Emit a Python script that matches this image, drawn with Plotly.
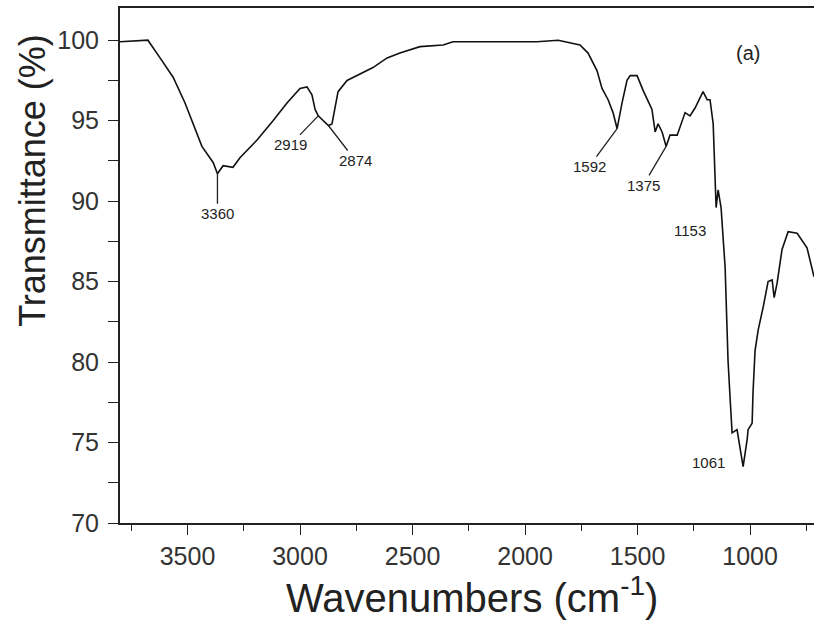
import plotly.graph_objects as go

# ---- data ----
wavenumber = [3800, 3676, 3622, 3564, 3511, 3475, 3436, 3386, 3367, 3342, 3298, 3267,
              3191, 3120, 3058, 3000, 2969, 2947, 2933, 2919, 2874, 2858, 2844, 2831,
              2791, 2733, 2676, 2613, 2556, 2467, 2364, 2320, 2213, 1947, 1853, 1756,
              1720, 1680, 1658, 1631, 1609, 1591, 1569, 1547, 1533, 1502, 1476, 1436,
              1422, 1409, 1391, 1373, 1356, 1324, 1289, 1267, 1244, 1209, 1191, 1178,
              1164, 1151, 1142, 1129, 1111, 1098, 1089, 1080, 1058, 1044, 1031, 1013,
              1009, 991, 987, 978, 964, 942, 920, 902, 893, 880, 867, 858, 831, 791,
              747, 716]
transmittance = [99.9, 100.0, 98.9, 97.7, 96.1, 94.8, 93.4, 92.4, 91.7, 92.2, 92.1, 92.7,
                 93.8, 95.0, 96.1, 97.0, 97.1, 96.6, 95.7, 95.3, 94.7, 94.8, 95.8, 96.8,
                 97.5, 97.9, 98.3, 98.9, 99.2, 99.6, 99.7, 99.9, 99.9, 99.9, 100.0, 99.7,
                 99.2, 98.1, 97.0, 96.3, 95.5, 94.5, 96.1, 97.5, 97.8, 97.8, 96.9, 95.7,
                 94.3, 94.8, 94.3, 93.4, 94.1, 94.1, 95.5, 95.3, 95.8, 96.8, 96.3, 96.3,
                 94.8, 89.6, 90.7, 89.6, 85.9, 80.1, 77.8, 75.6, 75.8, 74.7, 73.5, 75.2,
                 75.8, 76.2, 78.1, 80.7, 82.0, 83.4, 85.0, 85.1, 84.0, 84.9, 86.1, 87.0,
                 88.1, 88.0, 87.1, 85.3]

peak_labels = ["3360", "2919", "2874", "1592", "1375", "1153", "1061"]
peak_x = [3367, 2919, 2874, 1591, 1373, 1151, 1031]
peak_y = [91.7, 95.3, 94.7, 94.5, 93.4, 89.6, 73.5]

x_ticks = [3500, 3000, 2500, 2000, 1500, 1000]
y_ticks = [70, 75, 80, 85, 90, 95, 100]

# ---- label placement (pixel offsets, styling only) ----
label_style = {
    "3360": dict(showarrow=True, ax=0, ay=40),
    "2919": dict(showarrow=True, ax=-28, ay=29),
    "2874": dict(showarrow=True, ax=27, ay=35),
    "1592": dict(showarrow=True, ax=-28, ay=38),
    "1375": dict(showarrow=True, ax=-23, ay=39),
    "1153": dict(showarrow=False, xshift=-26, yshift=-23),
    "1061": dict(showarrow=False, xshift=-35, yshift=4),
}

font_family = "Liberation Sans, Arial, sans-serif"

fig = go.Figure()
fig.add_trace(go.Scatter(x=wavenumber, y=transmittance, mode="lines",
                         line=dict(color="#111111", width=1.6), showlegend=False))

annotations = []
for lab, px, py in zip(peak_labels, peak_x, peak_y):
    st = label_style[lab]
    a = dict(x=px, y=py, xref="x", yref="y", text=lab,
             font=dict(family=font_family, size=15, color="#222222"))
    if st["showarrow"]:
        a.update(showarrow=True, arrowhead=0, arrowwidth=1.3, arrowcolor="#222222",
                 ax=st["ax"], ay=st["ay"], standoff=0)
    else:
        a.update(showarrow=False, xshift=st["xshift"], yshift=st["yshift"],
                 xanchor="center", yanchor="middle")
    annotations.append(a)

annotations.append(dict(x=0.905, y=0.913, xref="paper", yref="paper", text="(a)",
                        xanchor="center", yanchor="middle", showarrow=False,
                        font=dict(family=font_family, size=20, color="#222222")))
annotations.append(dict(x=-0.127, y=0.666, xref="paper", yref="paper",
                        text="Transmittance (%)", textangle=-90, showarrow=False,
                        xanchor="center", yanchor="middle",
                        font=dict(family=font_family, size=36, color="#222222")))
annotations.append(dict(x=0.507, y=-0.14, xref="paper", yref="paper",
                        text="Wavenumbers (cm<sup>-1</sup>)", showarrow=False,
                        xanchor="center", yanchor="middle",
                        font=dict(family=font_family, size=40, color="#222222")))

fig.update_layout(
    width=814, height=627,
    margin=dict(l=120, r=0, t=8, b=104),
    plot_bgcolor="white", paper_bgcolor="white",
    annotations=annotations,
    xaxis=dict(range=[3800, 716], tickvals=x_ticks, ticktext=[str(v) for v in x_ticks],
               ticks="outside", ticklen=10, tickwidth=1.3, tickcolor="#222222",
               minor=dict(dtick=500, tick0=3750, ticks="outside", ticklen=6,
                          tickwidth=1.2, tickcolor="#222222"),
               showline=True, linecolor="#222222", linewidth=2, mirror=True,
               showgrid=False, zeroline=False,
               tickfont=dict(family=font_family, size=25, color="#333333")),
    yaxis=dict(range=[70, 102], tickvals=y_ticks, ticktext=[str(v) for v in y_ticks],
               ticks="outside", ticklen=10, tickwidth=1.3, tickcolor="#222222",
               minor=dict(dtick=5, tick0=72.5, ticks="outside", ticklen=10,
                          tickwidth=1.2, tickcolor="#222222"),
               showline=True, linecolor="#222222", linewidth=2, mirror=False,
               showgrid=False, zeroline=False, ticklabelstandoff=4,
               tickfont=dict(family=font_family, size=25, color="#333333")),
)

fig.write_html("out.html")
